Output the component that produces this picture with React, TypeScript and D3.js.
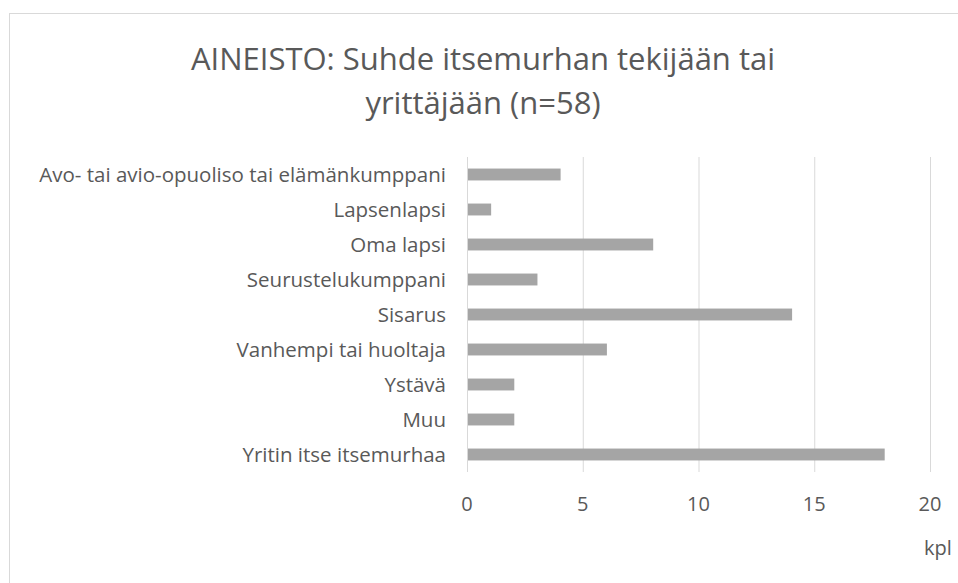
import React, { useEffect, useRef } from 'react';
import * as d3 from 'd3';

const categories = [
  'Avo- tai avio-opuoliso tai elämänkumppani',
  'Lapsenlapsi',
  'Oma lapsi',
  'Seurustelukumppani',
  'Sisarus',
  'Vanhempi tai huoltaja',
  'Ystävä',
  'Muu',
  'Yritin itse itsemurhaa',
];
const values = [4, 1, 8, 3, 14, 6, 2, 2, 18];
const ticks = [0, 5, 10, 15, 20];
const titleLines = ['AINEISTO: Suhde itsemurhan tekijään tai', 'yrittäjään (n=58)'];
const axisTitle = 'kpl';

export default function App() {
  const ref = useRef<SVGSVGElement>(null);

  useEffect(() => {
    const width = 958;
    const height = 583;
    const margin = { top: 157, right: 28, bottom: 111, left: 467 };
    const font = '"Open Sans", sans-serif';
    const textColor = '#595959';

    const svg = d3.select(ref.current);
    svg.selectAll('*').remove();
    svg.attr('width', width).attr('height', height);

    svg.append('rect')
      .attr('x', 9.5).attr('y', 13.5)
      .attr('width', width).attr('height', height)
      .attr('fill', '#fff').attr('stroke', '#d9d9d9');

    const x = d3.scaleLinear()
      .domain([0, 20])
      .range([margin.left, 930]);

    const y = d3.scaleBand()
      .domain(categories)
      .range([margin.top, height - margin.bottom])
      .paddingInner(0.66)
      .paddingOuter(0.33);

    // gridlines
    svg.append('g')
      .selectAll('line')
      .data(ticks)
      .enter()
      .append('line')
      .attr('x1', d => x(d) + 0.5).attr('x2', d => x(d) + 0.5)
      .attr('y1', margin.top).attr('y2', height - margin.bottom)
      .attr('stroke', '#d9d9d9').attr('stroke-width', 1);

    svg.append('g')
      .selectAll('rect')
      .data(values)
      .enter()
      .append('rect')
      .attr('x', x(0) + 1)
      .attr('y', (d, i) => y(categories[i])!)
      .attr('width', d => x(d) - x(0))
      .attr('height', y.bandwidth())
      .attr('fill', '#a5a5a5');

    // category labels
    svg.append('g')
      .selectAll('text')
      .data(categories)
      .enter()
      .append('text')
      .attr('x', 446)
      .attr('y', d => y(d)! + y.bandwidth() / 2)
      .attr('dy', '0.36em')
      .attr('text-anchor', 'end')
      .attr('font-family', font).attr('font-size', 20.5)
      .attr('fill', textColor)
      .text(d => d);

    // tick labels
    svg.append('g')
      .selectAll('text')
      .data(ticks)
      .enter()
      .append('text')
      .attr('x', d => x(d))
      .attr('y', 511)
      .attr('text-anchor', 'middle')
      .attr('font-family', font).attr('font-size', 20)
      .attr('fill', textColor)
      .text(d => d);

    svg.append('text')
      .attr('x', 938).attr('y', 555)
      .attr('text-anchor', 'middle')
      .attr('font-family', font).attr('font-size', 20)
      .attr('fill', textColor)
      .text(axisTitle);

    svg.append('g')
      .selectAll('text')
      .data(titleLines)
      .enter()
      .append('text')
      .attr('x', 483)
      .attr('y', (d, i) => 70 + i * 44)
      .attr('text-anchor', 'middle')
      .attr('font-family', font).attr('font-size', 31)
      .attr('fill', textColor)
      .text(d => d);
  }, []);

  return <svg ref={ref} style={{ position: 'absolute', left: 0, top: 0 }} />;
}
